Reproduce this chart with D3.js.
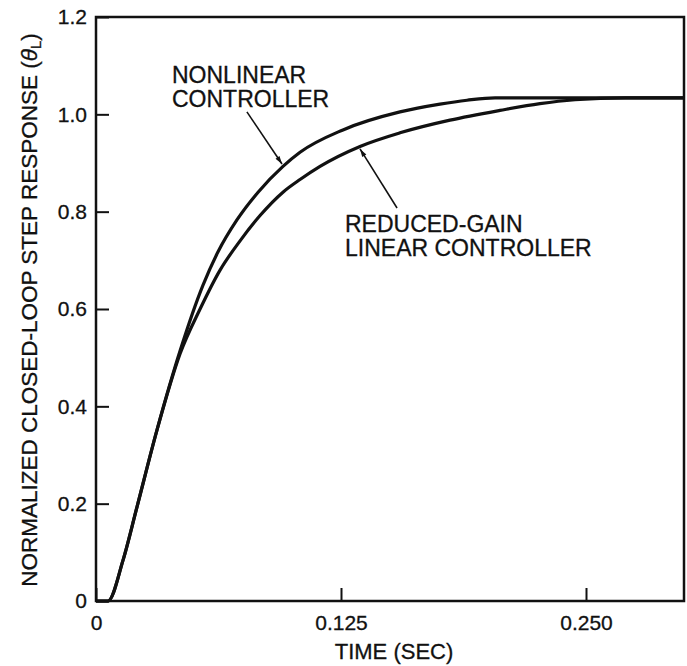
<!DOCTYPE html>
<html>
<head>
<meta charset="utf-8">
<script src="https://cdn.jsdelivr.net/npm/d3@7"></script>
<style>
  html, body { margin: 0; padding: 0; background: #fff; }
  svg { display: block; }
  text { font-family: "Liberation Sans", Arial, Helvetica, sans-serif; fill: #111; stroke: #111; stroke-width: 0.3px; }
</style>
</head>
<body>
<svg id="chart" width="687" height="666"></svg>
<script>
// ---- data (time in seconds, normalized response) ----
const nonlinearT = [0, 0.0061, 0.0138, 0.0209, 0.0311, 0.0429, 0.0546, 0.0622, 0.0719, 0.0827, 0.0954, 0.1041, 0.1260, 0.1551, 0.1755, 0.1893, 0.2036, 0.3];
const nonlinearV = [0, 0, 0.084, 0.193, 0.351, 0.514, 0.649, 0.717, 0.783, 0.840, 0.893, 0.922, 0.968, 1.005, 1.021, 1.029, 1.034, 1.034];

const linearT = [0, 0.0061, 0.0138, 0.0209, 0.0311, 0.0429, 0.0531, 0.0633, 0.0735, 0.0837, 0.0954, 0.1041, 0.1143, 0.1347, 0.1551, 0.1806, 0.2061, 0.2265, 0.2444, 0.27, 0.3];
const linearV = [0, 0, 0.084, 0.193, 0.351, 0.508, 0.600, 0.680, 0.740, 0.792, 0.840, 0.866, 0.893, 0.934, 0.962, 0.988, 1.008, 1.022, 1.030, 1.034, 1.034];

const xTicks = [0, 0.125, 0.25];
const xTickLabels = ["0", "0.125", "0.250"];
const yTicks = [0, 0.2, 0.4, 0.6, 0.8, 1.0, 1.2];
const yTickLabels = ["0", "0.2", "0.4", "0.6", "0.8", "1.0", "1.2"];

const xTitle = "TIME (SEC)";
const yTitle = "NORMALIZED CLOSED-LOOP STEP RESPONSE (";
const label1 = ["NONLINEAR", "CONTROLLER"];
const label2 = ["REDUCED-GAIN", "LINEAR CONTROLLER"];

// ---- layout ----
const svg = d3.select("#chart");
const x = d3.scaleLinear().domain([0, 0.3]).range([96, 684]);
const y = d3.scaleLinear().domain([0, 1.2]).range([601, 17]);

// frame
svg.append("rect")
  .attr("x", x(0)).attr("y", y(1.2))
  .attr("width", x(0.3) - x(0)).attr("height", y(0) - y(1.2))
  .attr("fill", "none").attr("stroke", "#111").attr("stroke-width", 2.5);

// axes
const yAxis = d3.axisLeft(y).tickValues(yTicks)
  .tickFormat((d, i) => yTickLabels[i])
  .tickSizeInner(-13).tickSizeOuter(0).tickPadding(9);
const gy = svg.append("g").attr("transform", `translate(${x(0)},0)`).call(yAxis);
gy.select(".domain").remove();
gy.selectAll(".tick line").attr("stroke", "#111").attr("stroke-width", 2);
gy.selectAll(".tick text").attr("font-size", 21).attr("fill", "#111")
  .style("font-family", '"Liberation Sans", Arial, sans-serif');

const xAxis = d3.axisBottom(x).tickValues(xTicks)
  .tickFormat((d, i) => xTickLabels[i])
  .tickSizeInner(-13).tickSizeOuter(0).tickPadding(14);
const gx = svg.append("g").attr("transform", `translate(0,${y(0)})`).call(xAxis);
gx.select(".domain").remove();
gx.selectAll(".tick line").attr("stroke", "#111").attr("stroke-width", 2);
gx.selectAll(".tick text").attr("font-size", 21).attr("fill", "#111")
  .style("font-family", '"Liberation Sans", Arial, sans-serif');

// axis titles
svg.append("text")
  .attr("x", 394).attr("y", 659)
  .attr("text-anchor", "middle").attr("font-size", 22)
  .text(xTitle);

const yt = svg.append("text")
  .attr("transform", "translate(37,310) rotate(-90)")
  .attr("text-anchor", "middle").attr("font-size", 22.5);
yt.append("tspan").text(yTitle);
yt.append("tspan").attr("font-style", "italic").text("θ");
yt.append("tspan").attr("font-size", 15).attr("dy", 4).text("L");
yt.append("tspan").attr("dy", -4).text(")");

// curves
const line = d3.line().x(d => x(d[0])).y(d => y(d[1])).curve(d3.curveMonotoneX);
const nonlinear = nonlinearT.map((t, i) => [t, nonlinearV[i]]);
const linear = linearT.map((t, i) => [t, linearV[i]]);

svg.append("path").datum(linear).attr("d", line)
  .attr("fill", "none").attr("stroke", "#111").attr("stroke-width", 3.2);
svg.append("path").datum(nonlinear).attr("d", line)
  .attr("fill", "none").attr("stroke", "#111").attr("stroke-width", 3.2);

// arrows
const defs = svg.append("defs");
defs.append("marker").attr("id", "arrow")
  .attr("viewBox", "0 0 10 10").attr("refX", 10).attr("refY", 5)
  .attr("markerWidth", 10).attr("markerHeight", 8).attr("markerUnits", "userSpaceOnUse")
  .attr("orient", "auto")
  .append("path").attr("d", "M0,2 L10,5 L0,8 Z").attr("fill", "#111");

const arrows = [
  { from: [0.0770, 1.005], to: [0.0949, 0.898] },
  { from: [0.1536, 0.8075], to: [0.1347, 0.929] }
];
svg.selectAll(".arrow").data(arrows).enter().append("line")
  .attr("x1", d => x(d.from[0])).attr("y1", d => y(d.from[1]))
  .attr("x2", d => x(d.to[0])).attr("y2", d => y(d.to[1]))
  .attr("stroke", "#111").attr("stroke-width", 1.6)
  .attr("marker-end", "url(#arrow)");

// curve labels
const lab1 = svg.append("text").attr("font-size", 23);
lab1.append("tspan").attr("x", 172).attr("y", 83).text(label1[0]);
lab1.append("tspan").attr("x", 172).attr("y", 107).text(label1[1]);

const lab2 = svg.append("text").attr("font-size", 23);
lab2.append("tspan").attr("x", 345).attr("y", 232).text(label2[0]);
lab2.append("tspan").attr("x", 345).attr("y", 256).text(label2[1]);
</script>
</body>
</html>
